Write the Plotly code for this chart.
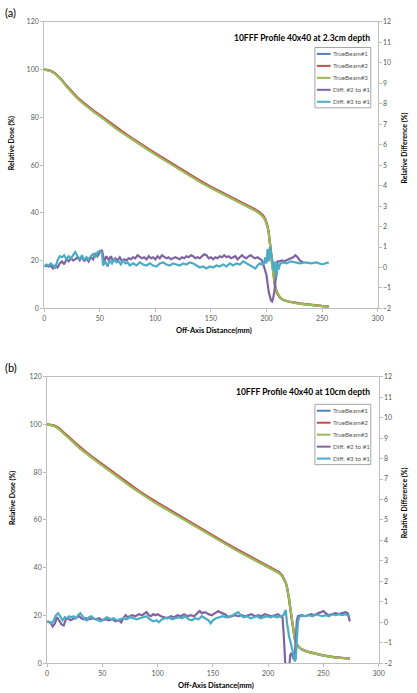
import plotly.graph_objects as go

W, H = 417, 693

# ---------------- Panel (a): 10FFF 40x40 at 2.3 cm depth ----------------
a_x = [0, 3, 6, 10, 15, 20, 25, 30, 35, 40, 45, 50, 55, 60, 65, 70, 75, 80, 85, 90, 95, 100,
       110, 120, 130, 140, 150, 160, 170, 180, 185, 190, 194, 197, 199, 200, 201, 202, 203,
       204, 205, 206, 207, 208, 209, 210, 212, 215, 220, 225, 230, 235, 240, 245, 250, 256]
a_tb1 = [100, 99.9, 99.4, 98.3, 96.0, 93.0, 90.5, 88.0, 86.0, 84.0, 82.3, 80.7, 78.8, 77.0, 75.4,
         73.8, 72.2, 70.6, 69.1, 67.6, 66.1, 64.6, 61.7, 58.8, 56.0, 53.2, 50.6, 48.2, 45.9, 43.6,
         42.4, 41.1, 39.8, 38.5, 37.0, 35.8, 34.0, 31.5, 27.5, 22.0, 17.5, 14.0, 11.0, 8.5, 7.0,
         6.0, 4.6, 3.5, 2.8, 2.3, 2.0, 1.7, 1.4, 1.2, 1.0, 0.8]
a_tb2 = [100, 99.9, 99.5, 98.4, 96.2, 93.3, 90.8, 88.3, 86.3, 84.3, 82.6, 81.0, 79.2, 77.4, 75.8,
         74.2, 72.6, 71.0, 69.5, 68.0, 66.5, 65.0, 62.1, 59.2, 56.4, 53.6, 51.0, 48.6, 46.3, 44.0,
         42.8, 41.5, 40.2, 38.9, 37.4, 36.2, 34.5, 32.0, 28.0, 22.5, 18.0, 14.3, 11.2, 8.7, 7.2,
         6.1, 4.7, 3.6, 2.9, 2.4, 2.1, 1.8, 1.5, 1.3, 1.1, 0.9]
a_tb3 = [100, 99.8, 99.3, 98.2, 95.9, 92.9, 90.3, 87.8, 85.8, 83.8, 82.1, 80.5, 78.6, 76.8, 75.2,
         73.6, 72.0, 70.4, 68.9, 67.4, 65.9, 64.4, 61.5, 58.6, 55.8, 53.0, 50.4, 48.0, 45.7, 43.4,
         42.2, 40.9, 39.6, 38.3, 36.9, 35.7, 34.0, 31.8, 28.2, 23.0, 18.2, 14.5, 11.5, 9.0, 7.4,
         6.3, 4.8, 3.6, 2.8, 2.3, 1.9, 1.6, 1.4, 1.2, 1.0, 0.8]

a_d21_x = [0, 2, 4, 6, 8, 10, 12, 14, 16, 18, 20, 22, 24, 26, 28, 30, 32, 34, 36, 38, 40, 42, 44,
           46, 48, 50, 52, 54, 56, 58, 60, 62, 64, 66, 68, 70, 72, 74, 76, 78, 80, 82, 84, 86, 88,
           90, 92, 94, 96, 98, 100, 102, 104, 106, 108, 110, 112, 114, 116, 118, 120, 122, 124,
           126, 128, 130, 132, 134, 136, 138, 140, 142, 144, 146, 148, 150, 152, 154, 156, 158,
           160, 162, 164, 166, 168, 170, 172, 174, 176, 178, 180, 182, 184, 186, 188, 190, 192,
           194, 196, 198, 200, 202, 203, 204, 205, 206, 207, 208, 209, 210, 212, 214, 216, 218,
           220, 222, 224, 226, 228, 230, 233]
a_d21 = [0.05, 0.1, 0.05, 0.08, -0.05, 0.1, 0.0, 0.2, 0.3, 0.15, 0.4, 0.3, 0.45, 0.35, 0.4, 0.5,
         0.35, 0.55, 0.3, 0.45, 0.3, 0.5, 0.4, 0.7, 0.55, 0.75, 0.85, 0.3, 0.55, 0.35, 0.55, 0.3,
         0.45, 0.35, 0.5, 0.3, 0.4, 0.35, 0.45, 0.4, 0.5, 0.45, 0.6, 0.5, 0.45, 0.5, 0.4, 0.55,
         0.45, 0.5, 0.4, 0.55, 0.45, 0.6, 0.5, 0.45, 0.5, 0.4, 0.45, 0.5, 0.45, 0.4, 0.5, 0.45,
         0.55, 0.5, 0.6, 0.55, 0.45, 0.5, 0.45, 0.55, 0.65, 0.6, 0.45, 0.5, 0.4, 0.5, 0.45, 0.55,
         0.5, 0.6, 0.5, 0.55, 0.45, 0.5, 0.55, 0.4, 0.5, 0.6, 0.5, 0.45, 0.55, 0.6, 0.5, 0.45,
         0.5, 0.4, 0.35, 0.0, -0.38, -1.2, -1.4, -1.6, -1.66, -1.5, -1.2, -0.6, -0.1, 0.3, 0.3,
         0.35, 0.3, 0.35, 0.4, 0.45, 0.5, 0.6, 0.5, 0.35, 0.25]
a_d31_x = [0, 2, 4, 6, 8, 10, 12, 14, 16, 18, 20, 22, 24, 26, 28, 30, 32, 34, 36, 38, 40, 42, 44,
           46, 48, 50, 52, 53, 55, 57, 59, 61, 63, 65, 67, 69, 71, 73, 75, 77, 80, 83, 86, 89, 92,
           95, 98, 101, 104, 107, 110, 113, 116, 119, 122, 125, 128, 131, 134, 137, 140, 143, 146,
           149, 152, 155, 158, 161, 164, 167, 170, 173, 176, 179, 182, 185, 188, 190, 192, 194,
           196, 198, 199, 200, 201, 202, 203, 204, 205, 206, 207, 208, 209, 210, 211, 212, 214,
           218, 222, 226, 230, 235, 240, 245, 250, 256]
a_d31 = [0.05, 0.15, 0.1, 0.2, 0.1, 0.0, 0.35, 0.55, 0.5, 0.6, 0.4, 0.55, 0.45, 0.6, 0.75, 0.55,
         0.4, 0.6, 0.35, 0.5, 0.4, 0.55, 0.65, 0.5, 0.75, 0.8, 0.7, 0.1, 0.3, 0.05, 0.35, 0.2, 0.4,
         0.25, 0.3, 0.15, 0.35, 0.2, 0.25, 0.1, 0.2, 0.1, 0.25, 0.15, 0.1, 0.2, 0.1, 0.05, 0.2,
         0.25, 0.15, 0.1, 0.2, 0.15, 0.1, 0.2, 0.15, 0.25, 0.2, 0.1, 0.0, 0.05, -0.05, 0.05, 0.0,
         0.1, 0.05, 0.15, 0.05, 0.2, 0.1, 0.2, 0.15, 0.3, 0.2, 0.1, 0.0, -0.05, 0.1, 0.2, 0.15,
         0.2, 0.5, 0.2, 0.9, 0.3, 1.0, 0.6, 0.4, 0.1, -0.2, 0.3, -0.45, 0.2, -0.1, 0.15, 0.25,
         0.2, 0.3, 0.25, 0.2, 0.25, 0.2, 0.25, 0.15, 0.25]

# ---------------- Panel (b): 10FFF 40x40 at 10 cm depth ----------------
b_x = [0, 3, 6, 10, 15, 20, 25, 30, 35, 40, 45, 50, 55, 60, 65, 70, 75, 80, 85, 90, 95, 100,
       110, 120, 130, 140, 150, 160, 170, 180, 190, 200, 205, 210, 213, 215, 216, 217, 218, 219,
       220, 221, 222, 223, 224, 225, 226, 228, 230, 235, 240, 245, 250, 260, 268, 274]
b_tb1 = [100, 99.9, 99.5, 98.5, 96.5, 94.3, 92.1, 90.0, 88.1, 86.3, 84.6, 83.0, 81.2, 79.5, 77.8,
         76.1, 74.4, 72.8, 71.2, 69.7, 68.2, 66.8, 64.1, 61.3, 58.5, 55.7, 53.0, 50.4, 47.8, 45.3,
         42.8, 40.4, 39.2, 37.8, 36.3, 34.8, 33.5, 31.8, 29.5, 26.5, 23.0, 19.5, 16.0, 12.5, 10.3,
         8.8, 7.8, 6.6, 5.9, 4.9, 4.3, 3.7, 3.2, 2.5, 2.1, 1.9]
b_tb2 = [100, 99.9, 99.6, 98.7, 96.8, 94.6, 92.5, 90.4, 88.5, 86.7, 85.0, 83.4, 81.6, 79.9, 78.2,
         76.5, 74.8, 73.2, 71.6, 70.1, 68.6, 67.2, 64.5, 61.7, 58.9, 56.1, 53.4, 50.8, 48.2, 45.7,
         43.2, 40.8, 39.6, 38.2, 36.7, 35.2, 33.9, 32.2, 29.9, 26.9, 23.3, 19.8, 16.2, 12.7, 10.5,
         9.0, 8.0, 6.8, 6.0, 5.0, 4.4, 3.8, 3.3, 2.6, 2.2, 2.0]
b_tb3 = [100, 99.8, 99.4, 98.3, 96.3, 94.1, 91.9, 89.8, 87.9, 86.1, 84.4, 82.8, 81.0, 79.3, 77.6,
         75.9, 74.2, 72.6, 71.0, 69.5, 68.0, 66.6, 63.9, 61.1, 58.3, 55.5, 52.8, 50.2, 47.6, 45.1,
         42.6, 40.2, 39.0, 37.7, 36.3, 34.9, 33.7, 32.1, 29.9, 27.0, 23.6, 20.0, 16.5, 13.0, 10.7,
         9.1, 8.0, 6.7, 6.0, 4.9, 4.3, 3.7, 3.2, 2.5, 2.1, 1.9]

b_d21_x = [0, 3, 5, 7, 9, 11, 13, 15, 17, 19, 21, 23, 25, 27, 29, 31, 33, 35, 38, 41, 44, 47, 50,
           53, 56, 59, 62, 65, 67, 69, 71, 73, 75, 77, 80, 83, 86, 88, 90, 92, 94, 96, 98, 100,
           103, 106, 109, 112, 115, 118, 121, 124, 127, 130, 133, 136, 138, 140, 143, 146, 149,
           152, 155, 158, 161, 164, 167, 170, 173, 176, 179, 182, 185, 188, 191, 194, 197, 200,
           203, 206, 209, 211, 213, 214, 215, 216, 217, 218, 219, 220, 221, 222, 223, 224, 225,
           226, 227, 230, 233, 236, 239, 242, 245, 248, 250, 252, 255, 258, 261, 264, 267, 270,
           272, 274]
b_d21 = [0.05, 0.0, -0.2, -0.05, 0.25, 0.1, -0.1, -0.15, 0.15, 0.2, 0.1, 0.15, 0.2, 0.25, 0.3,
         0.2, 0.15, 0.2, 0.15, 0.2, 0.15, 0.2, 0.1, 0.15, 0.1, 0.15, 0.05, 0.1, 0.0, 0.2, 0.35,
         0.25, 0.3, 0.35, 0.3, 0.4, 0.35, 0.45, 0.5, 0.35, 0.3, 0.4, 0.35, 0.4, 0.3, 0.25, 0.2,
         0.3, 0.25, 0.35, 0.3, 0.4, 0.3, 0.35, 0.3, 0.45, 0.55, 0.45, 0.5, 0.4, 0.35, 0.45, 0.55,
         0.45, 0.4, 0.25, 0.3, 0.35, 0.3, 0.35, 0.3, 0.35, 0.4, 0.3, 0.35, 0.3, 0.4, 0.35, 0.3,
         0.35, 0.4, 0.3, 0.25, -0.5, -1.4, -2.4, -3.5, -3.0, -2.2, -1.6, -1.5, -1.6, -1.8, -1.7,
         -0.8, 0.1, 0.3, 0.35, 0.3, 0.35, 0.4, 0.35, 0.45, 0.5, 0.55, 0.45, 0.35, 0.4, 0.45, 0.4,
         0.45, 0.5, 0.45, 0.05]
b_d31_x = [0, 2, 4, 6, 8, 10, 12, 14, 16, 18, 20, 22, 24, 26, 28, 30, 32, 34, 36, 38, 40, 42, 44,
           46, 48, 50, 52, 54, 56, 58, 60, 63, 66, 69, 72, 75, 78, 81, 84, 87, 90, 93, 96, 99,
           101, 104, 107, 110, 113, 116, 119, 122, 125, 128, 131, 134, 137, 140, 143, 146, 148,
           150, 153, 156, 159, 162, 165, 168, 171, 173, 175, 178, 181, 184, 187, 190, 193, 196,
           199, 202, 205, 208, 211, 214, 215, 216, 217, 218, 219, 220, 221, 222, 223, 224, 225,
           226, 227, 228, 231, 234, 237, 240, 243, 246, 249, 252, 255, 258, 261, 264, 267, 270,
           272, 274]
b_d31 = [0.05, 0.0, -0.05, 0.1, 0.35, 0.45, 0.3, 0.1, 0.25, 0.2, 0.3, 0.25, 0.3, 0.2, 0.35, 0.45,
         0.3, 0.15, 0.1, 0.25, 0.3, 0.2, 0.15, 0.1, 0.05, 0.1, 0.2, 0.25, 0.2, 0.15, 0.2, 0.1,
         0.15, 0.2, 0.15, 0.25, 0.2, 0.15, 0.2, 0.25, 0.3, 0.15, 0.05, 0.1, 0.0, 0.15, 0.2, 0.25,
         0.15, 0.2, 0.25, 0.2, 0.3, 0.15, 0.1, 0.2, 0.15, 0.3, 0.2, 0.1, -0.05, 0.1, 0.2, 0.25,
         0.3, 0.25, 0.3, 0.35, 0.45, 0.5, 0.35, 0.25, 0.3, 0.2, 0.25, 0.3, 0.2, 0.25, 0.3, 0.25,
         0.3, 0.25, 0.3, 0.35, 0.5, 0.6, 0.0, -0.4, -0.7, -0.9, -1.1, -1.3, -1.6, -1.9, -1.8,
         -0.8, 0.0, 0.25, 0.35, 0.3, 0.35, 0.3, 0.4, 0.35, 0.3, 0.35, 0.3, 0.4, 0.35, 0.4, 0.35,
         0.4, 0.35, 0.3]

series_names = ["TrueBeam#1", "TrueBeam#2", "TrueBeam#3", "Diff. #2 to #1", "Diff. #3 to #1"]
colors = ["#4F81BD", "#C0504D", "#9BBB59", "#8064A2", "#4BACC6"]
titles = ["10FFF Profile 40x40 at 2.3cm depth", "10FFF Profile 40x40 at 10cm depth"]
panel_labels = ["(a)", "(b)"]
x_ticks = [0, 50, 100, 150, 200, 250, 300]

FONT = "Lato, 'Liberation Sans', sans-serif"
TICK_COLOR = "#595959"
AXIS_LINE = "#BFBFBF"


def px(x):
    return x / W


def py(y):
    return 1 - y / H


# plot areas in pixels: (left, right, top, bottom)
areas = [(43, 383, 17, 307), (46, 384, 376, 666)]

fig = go.Figure()

panels = [
    (a_x, [a_tb1, a_tb2, a_tb3], [(a_d21_x, a_d21), (a_d31_x, a_d31)]),
    (b_x, [b_tb1, b_tb2, b_tb3], [(b_d21_x, b_d21), (b_d31_x, b_d31)]),
]

for i, (xs, doses, diffs) in enumerate(panels):
    xa = "x" if i == 0 else "x2"
    ya = "y" if i == 0 else "y3"
    ya2 = "y2" if i == 0 else "y4"
    for k, d in enumerate(doses):
        fig.add_trace(go.Scatter(x=xs, y=d, mode="lines", name=series_names[k],
                                 line=dict(color=colors[k], width=2.2),
                                 xaxis=xa, yaxis=ya, showlegend=False))
    for k, (dx, dy) in enumerate(diffs):
        fig.add_trace(go.Scatter(x=dx, y=dy, mode="lines", name=series_names[3 + k],
                                 line=dict(color=colors[3 + k], width=2.2),
                                 xaxis=xa, yaxis=ya2, showlegend=False))

common_axis = dict(showline=True, linecolor=AXIS_LINE, linewidth=1, showgrid=False,
                   zeroline=False, ticks="outside", ticklen=3, tickcolor=AXIS_LINE,
                   tickfont=dict(family=FONT, size=7, color=TICK_COLOR))

layout_axes = {}
for i, (l, r, t, b) in enumerate(areas):
    xkey = "xaxis" if i == 0 else "xaxis2"
    ykey = "yaxis" if i == 0 else "yaxis3"
    y2key = "yaxis2" if i == 0 else "yaxis4"
    xanchor = "y" if i == 0 else "y3"
    xname = "x" if i == 0 else "x2"
    yname = "y" if i == 0 else "y3"
    layout_axes[xkey] = dict(common_axis, domain=[px(l), px(r)], range=[0, 300],
                             tickvals=x_ticks, anchor=xanchor, mirror=True)
    layout_axes[ykey] = dict(common_axis, domain=[py(b), py(t)], range=[0, 120],
                             dtick=20, anchor=xname)
    layout_axes[y2key] = dict(common_axis, domain=[py(b), py(t)], range=[-2, 12],
                              dtick=1, anchor=xname, overlaying=yname, side="right")

fig.update_layout(**layout_axes)

annotations = []
shapes = []
for i, (l, r, t, b) in enumerate(areas):
    # panel label
    annotations.append(dict(text=panel_labels[i], x=px(1), y=py(t - 9), xref="paper",
                            yref="paper", xanchor="left", yanchor="middle", showarrow=False,
                            font=dict(family=FONT, size=11, color="#000000")))
    # chart title
    annotations.append(dict(text="<b>" + titles[i] + "</b>", x=px(377), y=py(t + 16),
                            xref="paper", yref="paper", xanchor="right", yanchor="middle",
                            showarrow=False, font=dict(family=FONT, size=8.5, color="#000000")))
    # axis titles
    annotations.append(dict(text="<b>Off-Axis Distance(mm)</b>", x=px((l + r) / 2 + 3),
                            y=py(b + 22), xref="paper", yref="paper", xanchor="center",
                            yanchor="middle", showarrow=False,
                            font=dict(family=FONT, size=7.5, color="#000000")))
    annotations.append(dict(text="<b>Relative Dose (%)</b>", x=px(10), y=py(t + 123),
                            xref="paper", yref="paper", xanchor="center", yanchor="middle",
                            textangle=-90, showarrow=False,
                            font=dict(family=FONT, size=7, color="#000000")))
    annotations.append(dict(text="<b>Relative Difference (%)</b>", x=px(410), y=py(t + 128),
                            xref="paper", yref="paper", xanchor="center", yanchor="middle",
                            textangle=-90, showarrow=False,
                            font=dict(family=FONT, size=7, color="#000000")))
    # legend box (drawn manually to match the compact spreadsheet legend)
    top = 43 if i == 0 else 404
    bot = top + 61
    shapes.append(dict(type="rect", xref="paper", yref="paper", x0=px(319), x1=px(376),
                       y0=py(bot), y1=py(top), line=dict(color="#A6A6A6", width=1),
                       fillcolor="white", layer="above"))
    for k, name in enumerate(series_names):
        yy = top + 6.5 + k * 12.1
        shapes.append(dict(type="line", xref="paper", yref="paper", x0=px(321), x1=px(335),
                           y0=py(yy), y1=py(yy), line=dict(color=colors[k], width=2),
                           layer="above"))
        annotations.append(dict(text=name, x=px(335), y=py(yy), xref="paper", yref="paper",
                                xanchor="left", yanchor="middle", showarrow=False,
                                font=dict(family=FONT, size=6.3, color=TICK_COLOR)))

fig.update_layout(width=W, height=H, margin=dict(l=0, r=0, t=0, b=0),
                  paper_bgcolor="white", plot_bgcolor="white", showlegend=False,
                  annotations=annotations, shapes=shapes,
                  font=dict(family=FONT, size=7, color=TICK_COLOR))

fig.write_html("out.html",
               config={"displayModeBar": False},
               post_script="document.body.style.margin='0px';"
                           "document.body.style.overflow='hidden';")
